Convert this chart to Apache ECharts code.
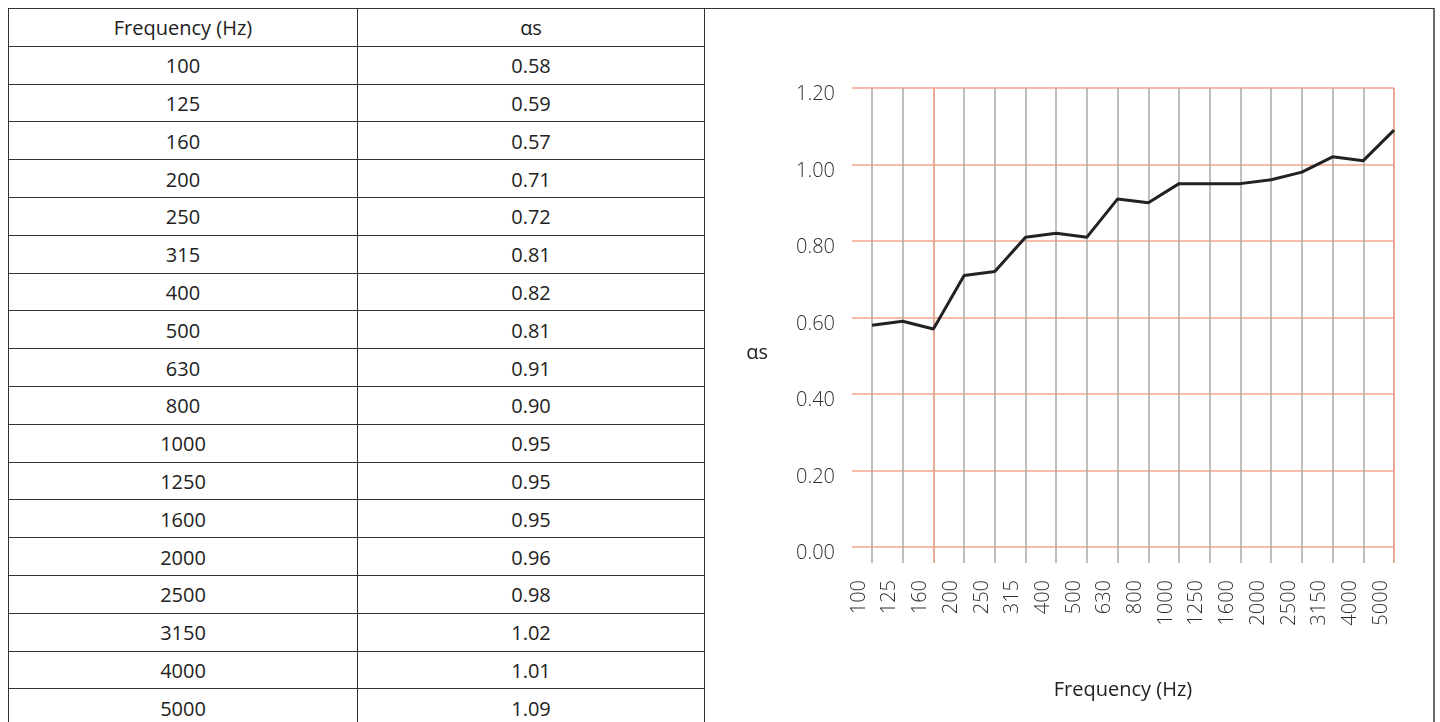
<!DOCTYPE html>
<html>
<head>
<meta charset="utf-8">
<script src="https://cdn.jsdelivr.net/npm/echarts@6/dist/echarts.min.js"></script>
<style>
html,body{margin:0;padding:0;overflow:hidden;background:#fff;width:1440px;height:722px;}
#frame{position:absolute;left:8px;top:8px;width:1427px;height:760px;border-top:1px solid #333;border-right:2px solid #6a6a6a;box-sizing:border-box;}
#tbl{position:absolute;left:8px;top:8px;width:696px;border-collapse:collapse;font-family:'Open Sans',sans-serif;font-size:20px;color:#222;table-layout:fixed;}
#tbl td{border:1px solid #333;text-align:center;padding:2px 0 0 0;line-height:1;}
#tbl tr{height:37.8px;}
#chart{position:absolute;left:0;top:0;width:1440px;height:722px;pointer-events:none;}
</style>
</head>
<body>
<div id="frame"></div>
<table id="tbl"><colgroup><col style="width:349px"><col style="width:347px"></colgroup><tbody id="tb"></tbody></table>
<div id="chart"></div>
<script>
// ---- data ----
const frequencies = ['100','125','160','200','250','315','400','500','630','800','1000','1250','1600','2000','2500','3150','4000','5000'];
const alphaS = [0.58,0.59,0.57,0.71,0.72,0.81,0.82,0.81,0.91,0.90,0.95,0.95,0.95,0.96,0.98,1.02,1.01,1.09];
const headers = ['Frequency (Hz)','αs'];
const highlightFreqs = ['160','5000'];

// ---- table ----
const tb = document.getElementById('tb');
let html = '<tr><td>' + headers[0] + '</td><td>' + headers[1] + '</td></tr>';
frequencies.forEach((f, i) => {
  html += '<tr><td>' + f + '</td><td>' + alphaS[i].toFixed(2) + '</td></tr>';
});
tb.innerHTML = html;

// ---- chart ----
const FONT = "'Open Sans', sans-serif";
const GREY = '#a8a8a8';
const ORANGE = '#f5a48b';
const chart = echarts.init(document.getElementById('chart'), null, {renderer:'canvas'});
const gTop = 88, gBottom = 722 - 547;
chart.setOption({
  animation: false,
  grid: [
    {left: 852, right: 46, top: gTop, bottom: gBottom},
    {left: 872, right: 46, top: gTop, bottom: gBottom},
    {left: 859, right: 59, top: gTop, bottom: gBottom}
  ],
  xAxis: [
    {gridIndex: 0, type: 'value', min: 0, max: 1,
     axisLine: {show: false}, axisTick: {show: false}, axisLabel: {show: false}, splitLine: {show: false},
     name: 'Frequency (Hz)', nameLocation: 'middle', nameGap: 133,
     nameTextStyle: {fontFamily: FONT, fontSize: 20, color: '#222'}},
    {gridIndex: 1, type: 'category', data: frequencies, boundaryGap: false,
     axisLine: {show: false}, axisLabel: {show: false},
     axisTick: {show: true, interval: 0, length: 16, lineStyle: {color: GREY, width: 1.5}},
     splitLine: {show: true, interval: 0, lineStyle: {color: GREY, width: 1.5}}},
    {gridIndex: 1, type: 'category', data: frequencies, boundaryGap: false, position: 'top',
     axisLine: {show: false}, axisLabel: {show: false}, splitLine: {show: false},
     axisTick: {show: true, inside: true, length: 475,
       interval: (i, v) => highlightFreqs.includes(v),
       lineStyle: {color: ORANGE, width: 1.5}}},
    {gridIndex: 2, type: 'category', data: frequencies, boundaryGap: false,
     axisLine: {show: false}, axisTick: {show: false}, splitLine: {show: false},
     axisLabel: {show: true, interval: 0, rotate: 90, margin: 33,
       fontFamily: FONT, fontSize: 20, color: '#2e2e2e', fontWeight: 300}}
  ],
  yAxis: [
    {gridIndex: 0, type: 'value', min: 0, max: 1.2, interval: 0.2,
     axisLine: {show: false}, axisTick: {show: false},
     axisLabel: {formatter: v => v.toFixed(2), margin: 17, verticalAlign: 'top', lineHeight: 13,
       fontFamily: FONT, fontSize: 20, color: '#2e2e2e', fontWeight: 300},
     splitLine: {show: true, lineStyle: {color: ORANGE, width: 1.5}},
     name: 'αs', nameLocation: 'middle', nameGap: 84, nameRotate: 0,
     nameTextStyle: {fontFamily: FONT, fontSize: 20, color: '#222', verticalAlign: 'top', lineHeight: 72}},
    {gridIndex: 1, type: 'value', min: 0, max: 1.2, show: false},
    {gridIndex: 2, type: 'value', min: 0, max: 1.2, show: false}
  ],
  series: [{
    type: 'line', xAxisIndex: 1, yAxisIndex: 1, data: alphaS,
    showSymbol: false, symbol: 'none',
    lineStyle: {color: '#222', width: 3}, z: 10
  }]
});
</script>
</body>
</html>
